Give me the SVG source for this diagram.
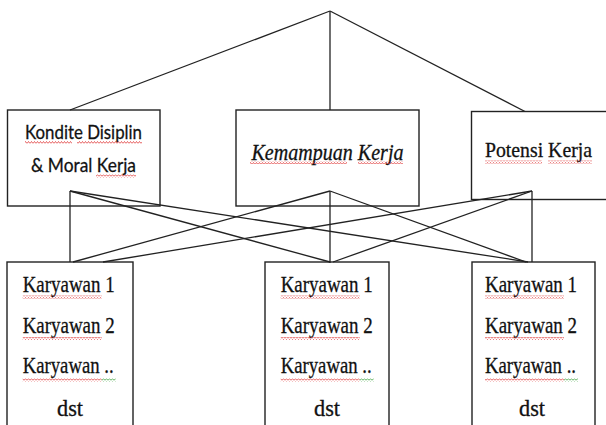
<svg xmlns="http://www.w3.org/2000/svg" width="606" height="425" viewBox="0 0 606 425">
<style>
.box{fill:#fff;stroke:#222;stroke-width:1.4}
.ln{stroke:#222;stroke-width:1.3;fill:none}
text{fill:#111;stroke:#111;stroke-width:0.3}
.serif{font-family:"Liberation Serif","Times New Roman",serif}
.sans{font-family:Lato,"Open Sans","Liberation Sans",sans-serif}
.red{fill:url(#wr)}
.grn{fill:url(#wg)}
</style>
<defs>
<pattern id="wr" width="3" height="3" patternUnits="userSpaceOnUse"><path d="M0,2.5 L1.5,0.5 L3,2.5" fill="none" stroke="#e03a3a" stroke-width="0.8"/></pattern>
<pattern id="wg" width="3" height="3" patternUnits="userSpaceOnUse"><path d="M0,2.5 L1.5,0.5 L3,2.5" fill="none" stroke="#3aa03a" stroke-width="0.8"/></pattern>
</defs>

<g id="node-kondite" class="sans">
<rect class="box" x="7.5" y="110" width="152.5" height="96"/>
<text x="25" y="139" font-size="20" textLength="117" lengthAdjust="spacingAndGlyphs">Kondite Disiplin</text>
<text x="31" y="171.5" font-size="20" textLength="105" lengthAdjust="spacingAndGlyphs">&amp; Moral Kerja</text>
<rect class="red" x="25" y="141" width="47" height="3"/>
<rect class="red" x="77" y="141" width="65" height="3"/>
<rect class="red" x="96" y="174.5" width="40" height="3"/>
</g>

<g id="node-kemampuan" class="serif">
<rect class="box" x="236" y="110" width="183" height="96"/>
<text x="251.5" y="160" font-size="23" font-style="italic" textLength="152" lengthAdjust="spacingAndGlyphs">Kemampuan Kerja</text>
<rect class="red" x="250" y="161" width="97" height="3"/>
<rect class="red" x="358" y="161" width="45" height="3"/>
</g>

<g id="node-potensi" class="serif">
<rect class="box" x="471.5" y="111.5" width="140" height="88"/>
<text x="485" y="157" font-size="22" textLength="107" lengthAdjust="spacingAndGlyphs">Potensi Kerja</text>
<rect class="red" x="485" y="160.5" width="57" height="3"/>
<rect class="red" x="548" y="160.5" width="44" height="3"/>
</g>

<g id="node-karyawan-a" class="serif" font-size="23">
<rect class="box" x="7" y="262" width="126" height="180"/>
<text x="22.7" y="291.5" textLength="92" lengthAdjust="spacingAndGlyphs">Karyawan 1</text>
<text x="22.7" y="333" textLength="92" lengthAdjust="spacingAndGlyphs">Karyawan 2</text>
<text x="22.7" y="373" textLength="91" lengthAdjust="spacingAndGlyphs">Karyawan ..</text>
<text x="70" y="416" text-anchor="middle" textLength="26" lengthAdjust="spacingAndGlyphs">dst</text>
<rect class="red" x="22.7" y="295.5" width="79" height="3"/>
<rect class="red" x="22.7" y="337" width="79" height="3"/>
<rect class="red" x="22.7" y="378.5" width="79" height="3"/>
<rect class="grn" x="101.7" y="378.5" width="14" height="3"/>
</g>

<g id="node-karyawan-b" class="serif" font-size="23">
<rect class="box" x="265" y="262" width="124" height="180"/>
<text x="280.7" y="291.5" textLength="92" lengthAdjust="spacingAndGlyphs">Karyawan 1</text>
<text x="280.7" y="333" textLength="92" lengthAdjust="spacingAndGlyphs">Karyawan 2</text>
<text x="280.7" y="373" textLength="91" lengthAdjust="spacingAndGlyphs">Karyawan ..</text>
<text x="327" y="416" text-anchor="middle" textLength="26" lengthAdjust="spacingAndGlyphs">dst</text>
<rect class="red" x="280.7" y="295.5" width="79" height="3"/>
<rect class="red" x="280.7" y="337" width="79" height="3"/>
<rect class="red" x="280.7" y="378.5" width="79" height="3"/>
<rect class="grn" x="359.7" y="378.5" width="14" height="3"/>
</g>

<g id="node-karyawan-c" class="serif" font-size="23">
<rect class="box" x="472" y="262" width="123" height="180"/>
<text x="485" y="291.5" textLength="92" lengthAdjust="spacingAndGlyphs">Karyawan 1</text>
<text x="485" y="333" textLength="92" lengthAdjust="spacingAndGlyphs">Karyawan 2</text>
<text x="485" y="373" textLength="91" lengthAdjust="spacingAndGlyphs">Karyawan ..</text>
<text x="532" y="416" text-anchor="middle" textLength="26" lengthAdjust="spacingAndGlyphs">dst</text>
<rect class="red" x="485" y="295.5" width="79" height="3"/>
<rect class="red" x="485" y="337" width="79" height="3"/>
<rect class="red" x="485" y="378.5" width="79" height="3"/>
<rect class="grn" x="564" y="378.5" width="14" height="3"/>
</g>

<g id="connectors" class="ln">
<line x1="330" y1="11" x2="70" y2="110"/>
<line x1="330" y1="11" x2="330" y2="110"/>
<line x1="330" y1="11" x2="525" y2="111.5"/>

<line x1="70" y1="191" x2="70" y2="262"/>
<line x1="70" y1="191" x2="330" y2="262"/>
<line x1="70" y1="191" x2="528" y2="262"/>

<line x1="330" y1="191" x2="330" y2="263"/>
<line x1="330" y1="191" x2="73" y2="262"/>
<line x1="330" y1="191" x2="526" y2="262"/>

<line x1="532" y1="191" x2="532" y2="262"/>
<line x1="532" y1="191" x2="103" y2="262"/>
<line x1="532" y1="191" x2="333" y2="262"/>
</g>
</svg>
